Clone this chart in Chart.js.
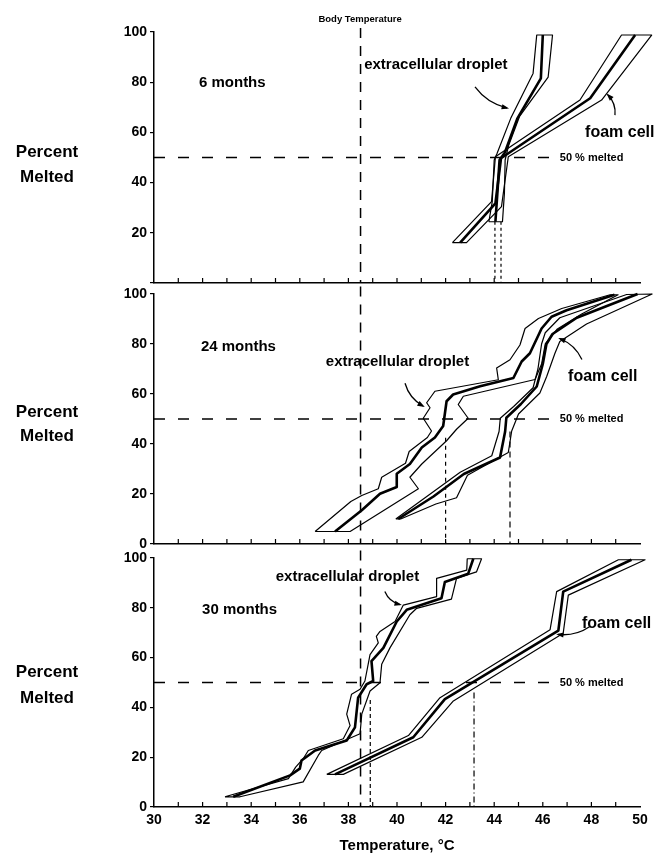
<!DOCTYPE html>
<html>
<head>
<meta charset="utf-8">
<script src="https://cdn.jsdelivr.net/npm/chart.js@4.4.1/dist/chart.umd.min.js"></script>
<style>
  body { margin: 0; background: #fff; }
  #wrap { position: relative; width: 655px; height: 853px; }
  canvas { position: absolute; left: 0; }
</style>
</head>
<body>
<div id="wrap">
  <canvas id="c6" width="655" height="300" style="top:0px"></canvas>
  <canvas id="c24" width="655" height="275" style="top:284px"></canvas>
  <canvas id="c30" width="655" height="305" style="top:548px"></canvas>
</div>
<script>
// [temperature °C, percent melted] pairs
// each curve = lower bound, mean (thick), upper bound
const bodyTemp = 38.5;
const halfMelted = 50;

// 6 months
const drop6Lo  = [[43.78,24.4],[43.92,32.4],[44.0,49],[44.12,51.7],[44.68,65.6],[45.6,83.5],[45.75,98.8]];
const drop6Mid = [[44.05,24.4],[44.13,35.7],[44.22,49],[44.44,52],[44.95,65.5],[45.92,81.5],[46.0,98.8]];
const drop6Hi  = [[44.34,24.4],[44.42,35.7],[44.45,49],[44.6,55],[45.05,66.5],[46.22,82],[46.4,98.8]];
const foam6Lo  = [[42.28,16.1],[43.89,32.4],[44.05,50.3],[47.53,72.9],[49.24,98.8]];
const foam6Mid = [[42.6,16.1],[44.05,31.7],[44.28,49.7],[47.95,73.6],[49.8,98.8]];
const foam6Hi  = [[42.86,16.1],[44.3,30.4],[44.58,50.3],[48.42,72.9],[50.48,98.8]];
const melt6T = [44.03, 44.28];
const melt6P = [24.4, 24.4];

// 24 months
const drop24Lo  = [[36.63,5],[38.1,17],[38.55,19.4],[39.23,22.1],[39.37,26.7],[40.35,32.3],[40.5,37],[41.25,42.6],[41.42,45.2],[41.08,50.3],[41.36,54.5],[41.22,56.5],[41.56,61.1],[44.17,65.7],[44.1,70.4],[44.65,73.7],[45.06,79.6],[45.27,86.2],[45.82,90.2],[46.78,94.2],[48.77,99.7]];
const drop24Mid = [[37.45,5],[38.55,13.5],[39.3,20.1],[39.99,22.8],[39.99,28.1],[40.53,32],[41.02,38.6],[41.56,42.6],[41.9,47.2],[42.04,57.1],[42.31,59.8],[43.42,63.1],[44.79,66.4],[45.13,73],[45.47,76.3],[45.95,86.2],[46.36,90.9],[46.98,93.5],[48.95,99.7]];
const drop24Hi  = [[38.07,5],[40.88,22.1],[40.53,26.7],[41.02,32],[42.04,41.3],[42.45,45.9],[42.93,50.3],[42.52,55.8],[42.73,59.1],[45.68,65.8],[45.95,72],[46.1,80],[46.6,86],[47.6,92],[49.1,99.7]];
const foam24Lo  = [[39.95,10],[42.6,28.7],[43.9,35.3],[44.2,45],[44.25,50.3],[44.8,55],[45.6,62.5],[45.8,70],[45.95,80],[46.1,84.5],[46.7,90.5],[49.45,99.8]];
const foam24Mid = [[40.05,10],[41.5,19],[42.75,28],[44.24,34.6],[44.45,45],[44.5,50.5],[45.1,56],[45.75,63],[46.0,72],[46.15,80],[46.4,84],[47.4,90.5],[49.9,100]];
const foam24Hi  = [[40.15,10],[41.6,16],[42.45,18.5],[42.9,27.5],[44.58,36.6],[44.72,45.2],[45.0,52],[45.88,60.4],[46.16,67],[46.5,76.3],[46.7,81],[47.8,88],[50.5,100]];
const melt24T = [42.0, 44.65];
const melt24P = [42.5, 45];

// 30 months
const drop30Lo  = [[32.92,4.1],[35.53,11.4],[35.83,16],[36.14,19.4],[36.35,22.7],[37.79,27.4],[38.07,32.7],[37.93,37.3],[38.13,45.3],[38.48,47.3],[38.68,50.6],[38.89,61.2],[39.23,65.9],[39.15,68.5],[39.3,70.5],[39.92,74.5],[40.26,81.1],[41.63,84.5],[41.63,91.8],[42.87,95.1],[42.89,99.7]];
const drop30Mid = [[33.26,4.1],[35.6,12.7],[36.0,15.4],[36.07,18.7],[36.63,22.7],[37.93,26.7],[38.27,32],[38.4,43.9],[38.75,49.3],[39.02,50.6],[38.95,58.6],[39.44,63.9],[39.99,74.5],[40.4,79.2],[41.83,83.8],[41.97,90.4],[42.93,93.7],[43.14,99.7]];
const drop30Hi  = [[33.54,4.1],[36.14,10.1],[36.76,20.7],[36.9,22.7],[38.48,29.4],[38.55,37.3],[38.89,46.6],[39.3,49.9],[39.37,57.3],[39.71,63.9],[40.53,77.2],[40.81,79.8],[42.24,83.5],[42.45,91.8],[43.27,94.4],[43.48,99.7]];
const foam30Lo  = [[37.11,13.1],[40.47,28.7],[41.77,43.9],[46.3,71.2],[46.57,86.5],[49.11,99.3]];
const foam30Mid = [[37.45,13.1],[40.67,28],[41.97,43.3],[46.64,70.8],[46.84,86.5],[49.65,99.3]];
const foam30Hi  = [[37.79,13.1],[41.02,28],[42.32,42.6],[46.84,69.8],[47.05,85.1],[50.21,99.3]];
const melt30T = [38.9, 43.17];
const melt30P = [43, 46];

const FONT = '"Liberation Sans", Arial, sans-serif';
Chart.defaults.font.family = FONT;
Chart.defaults.font.weight = 'bold';
Chart.defaults.color = '#000';

const pts = arr => arr.map(([x, y]) => ({x, y}));

function bandDatasets(lo, mid, hi) {
  const outline = pts(lo).concat(pts(hi).reverse(), pts(lo.slice(0, 1)));
  return [
    { data: outline, borderWidth: 1.2 },
    { data: pts(mid), borderWidth: 2.6 }
  ];
}

function makeDecor(panel) {
  return {
    id: 'decor',
    afterDatasetsDraw(chart) {
      const {ctx, scales: {x, y}} = chart;
      ctx.save();
      ctx.strokeStyle = '#000';
      ctx.fillStyle = '#000';
      ctx.lineWidth = 1.2;
      // tick marks point inward on the temperature axis
      x.ticks.forEach(t => {
        if (t.value <= 30 || t.value >= 50) return;
        const px = x.getPixelForValue(t.value);
        ctx.beginPath();
        ctx.moveTo(px, y.bottom);
        ctx.lineTo(px, y.bottom - 5);
        ctx.stroke();
      });
      panel.texts.forEach(tx => {
        ctx.font = `bold ${tx.size}px ${FONT}`;
        ctx.textAlign = tx.align || 'left';
        ctx.textBaseline = 'middle';
        const px = tx.px !== undefined ? tx.px : x.getPixelForValue(tx.t);
        ctx.fillText(tx.text, px, y.getPixelForValue(tx.p));
      });
      panel.arrows.forEach(a => {
        const x1 = x.getPixelForValue(a.from[0]), y1 = y.getPixelForValue(a.from[1]);
        const x2 = x.getPixelForValue(a.to[0]), y2 = y.getPixelForValue(a.to[1]);
        const dx = x2 - x1, dy = y2 - y1, len = Math.hypot(dx, dy);
        const cx = (x1 + x2) / 2 + dy / len * a.bend;
        const cy = (y1 + y2) / 2 - dx / len * a.bend;
        ctx.lineWidth = 1.3;
        ctx.beginPath();
        ctx.moveTo(x1, y1);
        ctx.quadraticCurveTo(cx, cy, x2, y2);
        ctx.stroke();
        const ang = Math.atan2(y2 - cy, x2 - cx);
        ctx.beginPath();
        ctx.moveTo(x2 + Math.cos(ang) * 2, y2 + Math.sin(ang) * 2);
        ctx.lineTo(x2 - Math.cos(ang - 0.45) * 6, y2 - Math.sin(ang - 0.45) * 6);
        ctx.lineTo(x2 - Math.cos(ang + 0.45) * 6, y2 - Math.sin(ang + 0.45) * 6);
        ctx.closePath();
        ctx.fill();
      });
      ctx.restore();
    }
  };
}

const panels = [
  {
    id: 'c6', padTop: 32, axisH: 17, last: false, hideZero: true, bodyTop: 101.6,
    bands: [[drop6Lo, drop6Mid, drop6Hi], [foam6Lo, foam6Mid, foam6Hi]],
    meltT: melt6T, meltP: melt6P, meltDash: [[3, 3], [3, 3]],
    texts: [
      {text: 'Body Temperature', t: 38.48, p: 105.2, size: 9.5, align: 'center'},
      {text: '6 months', t: 31.85, p: 79.7, size: 15},
      {text: 'extracellular droplet', t: 41.6, p: 86.9, size: 15, align: 'center'},
      {text: 'foam cell', t: 47.74, p: 59.8, size: 16},
      {text: '50 % melted', t: 46.7, p: 50, size: 11},
      {text: 'Percent', px: 47, p: 52.2, size: 17, align: 'center'},
      {text: 'Melted', px: 47, p: 42.2, size: 17, align: 'center'}
    ],
    arrows: [
      {from: [43.21, 78.1], to: [44.53, 69.7], bend: -7},
      {from: [48.97, 66.9], to: [48.68, 74.9], bend: -5}
    ]
  },
  {
    id: 'c24', padTop: 8, axisH: 15, last: false, hideZero: false, bodyTop: 103,
    bands: [[drop24Lo, drop24Mid, drop24Hi], [foam24Lo, foam24Mid, foam24Hi]],
    meltT: melt24T, meltP: melt24P, meltDash: [[4, 4], [6, 4]],
    texts: [
      {text: '24 months', t: 31.93, p: 79, size: 15},
      {text: 'extracellular droplet', t: 40.02, p: 73, size: 15, align: 'center'},
      {text: 'foam cell', t: 47.04, p: 67, size: 16},
      {text: '50 % melted', t: 46.7, p: 50, size: 11},
      {text: 'Percent', px: 47, p: 52.8, size: 17, align: 'center'},
      {text: 'Melted', px: 47, p: 42.9, size: 17, align: 'center'}
    ],
    arrows: [
      {from: [40.33, 64.3], to: [41.07, 55.2], bend: -6},
      {from: [47.61, 73.8], to: [46.71, 82.1], bend: -6}
    ]
  },
  {
    id: 'c30', padTop: 8, axisH: 46, last: true, hideZero: false, bodyTop: 103,
    bands: [[drop30Lo, drop30Mid, drop30Hi], [foam30Lo, foam30Mid, foam30Hi]],
    meltT: melt30T, meltP: melt30P, meltDash: [[4, 3], [6, 3, 1, 3]],
    texts: [
      {text: '30 months', t: 31.98, p: 79.3, size: 15},
      {text: 'extracellular droplet', t: 37.96, p: 92.4, size: 15, align: 'center'},
      {text: 'foam cell', t: 47.61, p: 73.7, size: 16},
      {text: '50 % melted', t: 46.7, p: 50, size: 11},
      {text: 'Percent', px: 47, p: 54.2, size: 17, align: 'center'},
      {text: 'Melted', px: 47, p: 43.8, size: 17, align: 'center'}
    ],
    arrows: [
      {from: [39.5, 86.5], to: [40.12, 81.3], bend: -5},
      {from: [47.94, 72.5], to: [46.63, 69.3], bend: 6}
    ]
  }
];

panels.forEach(panel => {
  const datasets = [];
  panel.bands.forEach(b => datasets.push(...bandDatasets(b[0], b[1], b[2])));
  datasets.push({ data: [{x: 30, y: halfMelted}, {x: 46.35, y: halfMelted}], borderWidth: 1.5, borderDash: [11, 13] });
  datasets.push({ data: [{x: bodyTemp, y: panel.bodyTop}, {x: bodyTemp, y: 0}], borderWidth: 1.5, borderDash: [10, 8] });
  panel.meltT.forEach((t, i) => {
    datasets.push({ data: [{x: t, y: panel.meltP[i]}, {x: t, y: 0}], borderWidth: 1.2, borderDash: panel.meltDash[i] });
  });
  datasets.forEach(d => Object.assign(d, {
    showLine: true, pointRadius: 0, borderColor: '#000', fill: false,
    tension: 0, clip: false, borderJoinStyle: 'round'
  }));

  new Chart(document.getElementById(panel.id), {
    type: 'scatter',
    data: { datasets },
    options: {
      responsive: false,
      animation: false,
      devicePixelRatio: 1,
      layout: { padding: { left: 0, right: 15, top: panel.padTop, bottom: 0 } },
      plugins: { legend: { display: false }, tooltip: { enabled: false } },
      scales: {
        x: {
          type: 'linear', min: 30, max: 50,
          grid: { display: false, drawTicks: false },
          border: { display: true, color: '#000', width: 1.5 },
          ticks: {
            display: panel.last, stepSize: 1, autoSkip: false, maxRotation: 0,
            padding: 6, font: { size: 14, weight: 'bold', lineHeight: 1 },
            callback: v => (v % 2 === 0 ? v : '')
          },
          title: {
            display: panel.last, text: 'Temperature, °C',
            font: { size: 15, weight: 'bold', lineHeight: 1 }, padding: { top: 0, bottom: 0 }
          },
          afterFit: s => { s.height = panel.axisH; }
        },
        y: {
          min: 0, max: 100,
          grid: { drawOnChartArea: false, drawTicks: true, tickLength: 4, color: '#000', lineWidth: 1.2 },
          border: { display: true, color: '#000', width: 1.5 },
          ticks: {
            stepSize: 20, padding: 3, font: { size: 14, weight: 'bold', lineHeight: 1 },
            callback: v => (panel.hideZero && v === 0 ? '' : v)
          },
          afterFit: s => { s.width = 154; }
        }
      }
    },
    plugins: [makeDecor(panel)]
  });
});
</script>
</body>
</html>
